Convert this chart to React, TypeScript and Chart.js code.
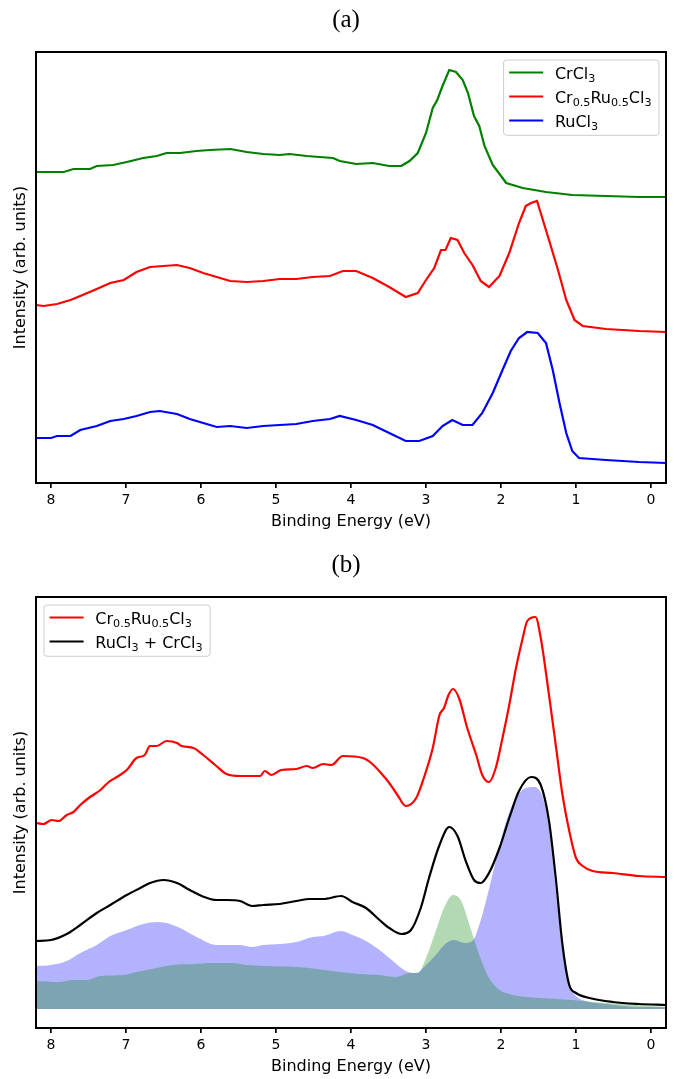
import React, { useEffect, useRef } from 'react';
import { Chart, registerables } from 'chart.js';

Chart.register(...registerables);

// ---------- axis ----------
const X_MIN = -0.2;
const X_MAX = 8.2;
const X_TICKS = [0, 1, 2, 3, 4, 5, 6, 7, 8];

// ---------- panel (a) ----------
const aCrE = [8.2, 8.0, 7.83, 7.7, 7.48, 7.39, 7.17, 6.99, 6.77, 6.59, 6.46, 6.28, 6.06, 5.88, 5.61, 5.39, 5.17, 4.95, 4.82, 4.59, 4.42, 4.24, 4.15, 3.93, 3.71, 3.49, 3.33, 3.22, 3.11, 3.0, 2.91, 2.85, 2.78, 2.69, 2.6, 2.51, 2.44, 2.36, 2.29, 2.22, 2.11, 1.93, 1.71, 1.4, 1.05, 0.6, 0.16, -0.2];
const aCrI = [3.11, 3.11, 3.11, 3.14, 3.14, 3.17, 3.18, 3.21, 3.25, 3.27, 3.30, 3.30, 3.32, 3.33, 3.34, 3.31, 3.29, 3.28, 3.29, 3.27, 3.26, 3.25, 3.22, 3.19, 3.20, 3.17, 3.17, 3.22, 3.30, 3.50, 3.75, 3.83, 3.97, 4.13, 4.11, 4.03, 3.90, 3.67, 3.57, 3.37, 3.18, 3.00, 2.95, 2.91, 2.88, 2.87, 2.86, 2.86];

const aMixE = [8.2, 8.1, 7.92, 7.74, 7.61, 7.39, 7.21, 7.03, 6.86, 6.68, 6.5, 6.32, 6.15, 5.97, 5.79, 5.61, 5.39, 5.17, 4.95, 4.73, 4.51, 4.28, 4.11, 3.93, 3.71, 3.49, 3.27, 3.11, 3.0, 2.89, 2.8, 2.74, 2.67, 2.58, 2.49, 2.38, 2.27, 2.16, 2.02, 1.89, 1.76, 1.67, 1.6, 1.52, 1.47, 1.36, 1.24, 1.13, 1.02, 0.91, 0.6, 0.16, -0.2];
const aMixI = [1.78, 1.77, 1.79, 1.83, 1.87, 1.94, 2.00, 2.03, 2.11, 2.16, 2.17, 2.18, 2.15, 2.10, 2.06, 2.02, 2.01, 2.02, 2.04, 2.04, 2.06, 2.07, 2.12, 2.12, 2.05, 1.96, 1.86, 1.90, 2.03, 2.15, 2.33, 2.33, 2.45, 2.43, 2.30, 2.18, 2.02, 1.96, 2.07, 2.30, 2.60, 2.77, 2.80, 2.82, 2.70, 2.43, 2.13, 1.83, 1.63, 1.57, 1.54, 1.52, 1.51];

const aRuE = [8.2, 8.0, 7.92, 7.74, 7.61, 7.39, 7.21, 7.03, 6.86, 6.68, 6.55, 6.32, 6.15, 5.97, 5.79, 5.61, 5.39, 5.17, 4.95, 4.73, 4.51, 4.28, 4.15, 3.93, 3.71, 3.49, 3.27, 3.09, 2.91, 2.78, 2.65, 2.51, 2.38, 2.25, 2.11, 1.98, 1.87, 1.76, 1.65, 1.51, 1.4, 1.31, 1.22, 1.13, 1.05, 0.96, 0.6, 0.16, -0.2];
const aRuI = [0.45, 0.45, 0.47, 0.47, 0.53, 0.57, 0.62, 0.64, 0.67, 0.71, 0.72, 0.69, 0.64, 0.60, 0.56, 0.57, 0.55, 0.57, 0.58, 0.59, 0.62, 0.64, 0.67, 0.63, 0.58, 0.50, 0.42, 0.42, 0.47, 0.57, 0.63, 0.58, 0.58, 0.70, 0.90, 1.13, 1.32, 1.45, 1.51, 1.50, 1.40, 1.13, 0.80, 0.50, 0.32, 0.25, 0.23, 0.21, 0.20];

// ---------- panel (b) ----------
const bMixE = [8.2, 8.1, 7.99, 7.9, 7.79, 7.7, 7.61, 7.48, 7.34, 7.23, 7.1, 6.99, 6.86, 6.75, 6.68, 6.59, 6.46, 6.32, 6.26, 6.1, 5.97, 5.81, 5.66, 5.48, 5.21, 5.15, 5.06, 4.93, 4.73, 4.59, 4.51, 4.37, 4.26, 4.11, 3.84, 3.73, 3.6, 3.49, 3.38, 3.27, 3.13, 3.02, 2.91, 2.82, 2.76, 2.7, 2.64, 2.56, 2.45, 2.33, 2.25, 2.16, 2.07, 1.98, 1.89, 1.8, 1.71, 1.65, 1.54, 1.47, 1.36, 1.27, 1.18, 1.09, 1.0, 0.91, 0.78, 0.51, 0.16, -0.2];
const bMixI = [1.86, 1.85, 1.89, 1.88, 1.94, 1.97, 2.04, 2.12, 2.19, 2.27, 2.33, 2.39, 2.51, 2.54, 2.63, 2.63, 2.68, 2.66, 2.63, 2.61, 2.54, 2.44, 2.35, 2.33, 2.33, 2.38, 2.34, 2.39, 2.40, 2.43, 2.41, 2.45, 2.44, 2.53, 2.51, 2.46, 2.36, 2.26, 2.14, 2.03, 2.11, 2.33, 2.61, 2.94, 3.01, 3.14, 3.20, 3.11, 2.81, 2.54, 2.34, 2.27, 2.41, 2.71, 3.04, 3.41, 3.71, 3.88, 3.92, 3.71, 3.14, 2.64, 2.14, 1.78, 1.51, 1.43, 1.38, 1.36, 1.33, 1.32];

const bSumE = [8.2, 8.0, 7.79, 7.61, 7.39, 7.21, 6.99, 6.81, 6.68, 6.5, 6.32, 6.15, 5.99, 5.79, 5.66, 5.48, 5.32, 5.17, 4.95, 4.73, 4.55, 4.37, 4.13, 3.98, 3.8, 3.62, 3.49, 3.33, 3.2, 3.07, 2.96, 2.82, 2.69, 2.58, 2.47, 2.36, 2.27, 2.16, 2.02, 1.89, 1.76, 1.6, 1.47, 1.36, 1.27, 1.18, 1.09, 1.0, 0.82, 0.51, 0.16, -0.2];
const bSumI = [0.68, 0.69, 0.75, 0.84, 0.96, 1.04, 1.14, 1.21, 1.26, 1.29, 1.26, 1.19, 1.13, 1.09, 1.09, 1.08, 1.03, 1.04, 1.05, 1.08, 1.10, 1.10, 1.13, 1.07, 1.01, 0.89, 0.81, 0.75, 0.79, 1.01, 1.31, 1.64, 1.82, 1.73, 1.48, 1.29, 1.26, 1.36, 1.61, 1.91, 2.18, 2.32, 2.24, 1.88, 1.31, 0.64, 0.24, 0.16, 0.11, 0.07, 0.05, 0.04];

const bRuE = [8.2, 8.0, 7.79, 7.61, 7.39, 7.21, 6.99, 6.77, 6.59, 6.46, 6.28, 6.06, 5.79, 5.48, 5.32, 5.17, 4.95, 4.73, 4.51, 4.37, 4.13, 3.98, 3.8, 3.62, 3.44, 3.27, 3.13, 3.0, 2.87, 2.73, 2.62, 2.49, 2.38, 2.29, 2.18, 2.07, 1.93, 1.8, 1.67, 1.56, 1.44, 1.36, 1.27, 1.18, 1.09, 1.0, 0.87, 0.6, 0.16, -0.2];
const bRuI = [0.43, 0.44, 0.48, 0.56, 0.64, 0.73, 0.79, 0.85, 0.87, 0.86, 0.81, 0.72, 0.64, 0.64, 0.62, 0.64, 0.65, 0.67, 0.72, 0.73, 0.78, 0.74, 0.68, 0.59, 0.48, 0.38, 0.36, 0.44, 0.54, 0.66, 0.69, 0.66, 0.68, 0.84, 1.14, 1.48, 1.88, 2.11, 2.21, 2.22, 2.11, 1.81, 1.21, 0.58, 0.24, 0.13, 0.08, 0.05, 0.02, 0.02];

const bCrE = [8.2, 7.9, 7.7, 7.52, 7.34, 7.03, 6.86, 6.59, 6.37, 6.1, 5.86, 5.59, 5.39, 5.17, 4.73, 4.46, 4.15, 3.89, 3.62, 3.4, 3.22, 3.11, 3.0, 2.87, 2.76, 2.64, 2.53, 2.42, 2.29, 2.16, 2.02, 1.84, 1.49, 1.05, 0.78, 0.38, -0.2];
const bCrI = [0.28, 0.27, 0.29, 0.29, 0.33, 0.34, 0.37, 0.41, 0.44, 0.45, 0.46, 0.46, 0.44, 0.43, 0.42, 0.40, 0.37, 0.35, 0.34, 0.32, 0.36, 0.36, 0.51, 0.78, 1.01, 1.14, 1.08, 0.84, 0.54, 0.31, 0.19, 0.14, 0.11, 0.09, 0.07, 0.05, 0.02];

const A_Y_MIN = 0;
const A_Y_MAX = 4.31;
const B_Y_MIN = -0.19;
const B_Y_MAX = 4.12;

const LABEL_CR = 'CrCl_{3}';
const LABEL_MIX = 'Cr_{0.5}Ru_{0.5}Cl_{3}';
const LABEL_RU = 'RuCl_{3}';
const LABEL_SUM = 'RuCl_{3} + CrCl_{3}';

// ---------- helpers ----------
const FONT = 'DejaVu Sans';
const LEG_SIZE = 16;
const SUB_SIZE = 11.2;

function zip(e: number[], v: number[]) {
  const n = Math.min(e.length, v.length);
  const out: { x: number; y: number }[] = [];
  for (let i = 0; i < n; i++) out.push({ x: e[i], y: v[i] });
  return out;
}

function parseRich(text: string) {
  const parts: { t: string; sub: boolean }[] = [];
  const re = /_\{([^}]*)\}/g;
  let last = 0;
  let m: RegExpExecArray | null;
  while ((m = re.exec(text)) !== null) {
    if (m.index > last) parts.push({ t: text.slice(last, m.index), sub: false });
    parts.push({ t: m[1], sub: true });
    last = m.index + m[0].length;
  }
  if (last < text.length) parts.push({ t: text.slice(last), sub: false });
  return parts;
}

function richWidth(ctx: CanvasRenderingContext2D, text: string) {
  let w = 0;
  for (const p of parseRich(text)) {
    ctx.font = `${p.sub ? SUB_SIZE : LEG_SIZE}px "${FONT}"`;
    w += ctx.measureText(p.t).width;
  }
  return w;
}

function drawRich(ctx: CanvasRenderingContext2D, text: string, x: number, baseline: number) {
  let cx = x;
  ctx.textAlign = 'left';
  ctx.textBaseline = 'alphabetic';
  for (const p of parseRich(text)) {
    ctx.font = `${p.sub ? SUB_SIZE : LEG_SIZE}px "${FONT}"`;
    ctx.fillText(p.t, cx, baseline + (p.sub ? 3.6 : 0));
    cx += ctx.measureText(p.t).width;
  }
}

type LegendItem = { text: string; color: string };

function decorPlugin(title: string, items: LegendItem[], side: 'left' | 'right') {
  return {
    id: 'decor' + title,
    afterDatasetsDraw(chart: any) {
      const { ctx, chartArea } = chart;
      const { left, top, right, bottom } = chartArea;
      ctx.save();
      ctx.strokeStyle = '#000';
      ctx.lineWidth = 2;
      ctx.strokeRect(left, top, right - left, bottom - top);
      ctx.restore();
    },
    afterDraw(chart: any) {
      const { ctx, chartArea } = chart;
      ctx.save();
      // panel title
      ctx.fillStyle = '#000';
      ctx.font = '25px "Liberation Serif"';
      ctx.textAlign = 'center';
      ctx.textBaseline = 'middle';
      ctx.fillText(title, 346, 20);

      // legend
      let maxW = 0;
      for (const it of items) maxW = Math.max(maxW, richWidth(ctx, it.text));
      const boxW = 5.6 + 34 + 11.7 + maxW + 7.5;
      const boxH = 24 * items.length + 3.3;
      const bx = side === 'left' ? chartArea.left + 8 : chartArea.right - 7 - boxW;
      const by = chartArea.top + 8;
      const r = 3;
      ctx.beginPath();
      ctx.moveTo(bx + r, by);
      ctx.lineTo(bx + boxW - r, by);
      ctx.quadraticCurveTo(bx + boxW, by, bx + boxW, by + r);
      ctx.lineTo(bx + boxW, by + boxH - r);
      ctx.quadraticCurveTo(bx + boxW, by + boxH, bx + boxW - r, by + boxH);
      ctx.lineTo(bx + r, by + boxH);
      ctx.quadraticCurveTo(bx, by + boxH, bx, by + boxH - r);
      ctx.lineTo(bx, by + r);
      ctx.quadraticCurveTo(bx, by, bx + r, by);
      ctx.closePath();
      ctx.fillStyle = 'rgba(255,255,255,0.8)';
      ctx.fill();
      ctx.strokeStyle = '#cccccc';
      ctx.lineWidth = 1;
      ctx.stroke();

      items.forEach((it, i) => {
        const ry = by + 12.5 + 24 * i;
        ctx.strokeStyle = it.color;
        ctx.lineWidth = 2.2;
        ctx.beginPath();
        ctx.moveTo(bx + 5.6, ry);
        ctx.lineTo(bx + 5.6 + 34, ry);
        ctx.stroke();
        ctx.fillStyle = '#000';
        drawRich(ctx, it.text, bx + 5.6 + 34 + 11.7, ry + 6);
      });
      ctx.restore();
    },
  };
}

function makeScales(yMin: number, yMax: number) {
  return {
    x: {
      type: 'linear' as const,
      reverse: true,
      min: X_MIN,
      max: X_MAX,
      afterBuildTicks: (s: any) => {
        s.ticks = X_TICKS.map((v) => ({ value: v }));
      },
      afterFit: (s: any) => {
        s.height = 62;
      },
      grid: { drawOnChartArea: false, drawTicks: true, tickLength: 5, color: '#000', lineWidth: 1.7 },
      border: { display: false },
      ticks: {
        color: '#000',
        font: { family: FONT, size: 14 },
        padding: 3.5,
        maxRotation: 0,
        autoSkip: false,
      },
      title: {
        display: true,
        text: 'Binding Energy (eV)',
        color: '#000',
        font: { family: FONT, size: 16 },
        padding: { top: 0, bottom: 13.7 },
      },
    },
    y: {
      type: 'linear' as const,
      min: yMin,
      max: yMax,
      afterFit: (s: any) => {
        s.width = 36;
      },
      grid: { display: false },
      border: { display: false },
      ticks: { display: false },
      title: {
        display: true,
        text: 'Intensity (arb. units)',
        color: '#000',
        font: { family: FONT, size: 16 },
        padding: { top: 11.2, bottom: 0 },
      },
    },
  };
}

const baseOptions = {
  responsive: false,
  animation: false as const,
  devicePixelRatio: 1,
  layout: { padding: { top: 52, right: 8, bottom: 0, left: 0 } },
  plugins: { legend: { display: false }, title: { display: false }, tooltip: { enabled: false } },
  events: [] as any[],
};

function line(data: { x: number; y: number }[], color: string, order: number, smooth: boolean) {
  return {
    data,
    borderColor: color,
    borderWidth: 2.2,
    pointRadius: 0,
    fill: false,
    order,
    tension: 0,
    cubicInterpolationMode: smooth ? ('monotone' as const) : ('default' as const),
  };
}

function area(data: { x: number; y: number }[], color: string, order: number) {
  return {
    data,
    borderColor: 'rgba(0,0,0,0)',
    borderWidth: 0,
    backgroundColor: color,
    pointRadius: 0,
    fill: 'origin',
    order,
    cubicInterpolationMode: 'monotone' as const,
  };
}

export default function App() {
  const refA = useRef<HTMLCanvasElement>(null);
  const refB = useRef<HTMLCanvasElement>(null);

  useEffect(() => {
    const chartA = new Chart(refA.current as HTMLCanvasElement, {
      type: 'line',
      data: {
        datasets: [
          line(zip(aCrE, aCrI), 'green', 0, false),
          line(zip(aMixE, aMixI), '#ff0000', 1, false),
          line(zip(aRuE, aRuI), '#0000ff', 2, false),
        ] as any,
      },
      options: { ...baseOptions, scales: makeScales(A_Y_MIN, A_Y_MAX) } as any,
      plugins: [
        decorPlugin(
          '(a)',
          [
            { text: LABEL_CR, color: 'green' },
            { text: LABEL_MIX, color: '#ff0000' },
            { text: LABEL_RU, color: '#0000ff' },
          ],
          'right'
        ),
      ],
    });

    const chartB = new Chart(refB.current as HTMLCanvasElement, {
      type: 'line',
      data: {
        datasets: [
          line(zip(bMixE, bMixI), '#ff0000', 0, true),
          line(zip(bSumE, bSumI), '#000000', 1, true),
          area(zip(bCrE, bCrI), 'rgba(0,128,0,0.3)', 2),
          area(zip(bRuE, bRuI), 'rgba(0,0,255,0.3)', 3),
        ] as any,
      },
      options: { ...baseOptions, scales: makeScales(B_Y_MIN, B_Y_MAX) } as any,
      plugins: [
        decorPlugin(
          '(b)',
          [
            { text: LABEL_MIX, color: '#ff0000' },
            { text: LABEL_SUM, color: '#000000' },
          ],
          'left'
        ),
      ],
    });

    return () => {
      chartA.destroy();
      chartB.destroy();
    };
  }, []);

  return (
    <div
      style={{
        position: 'absolute',
        left: 0,
        top: 0,
        width: 674,
        height: 1079,
        overflow: 'hidden',
        background: '#fff',
      }}
    >
      <canvas
        ref={refA}
        width={674}
        height={545}
        style={{ position: 'absolute', left: 0, top: 0, width: 674, height: 545 }}
      />
      <canvas
        ref={refB}
        width={674}
        height={545}
        style={{ position: 'absolute', left: 0, top: 545, width: 674, height: 545 }}
      />
    </div>
  );
}
